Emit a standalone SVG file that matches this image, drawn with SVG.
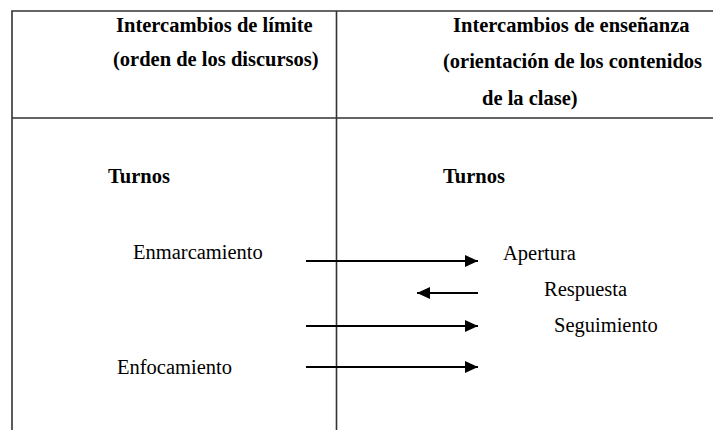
<svg xmlns="http://www.w3.org/2000/svg" width="713" height="430" viewBox="0 0 713 430">
<style>
.t{font-family:"Liberation Serif","Times New Roman",serif;font-size:20.5px;fill:#000}
.b{font-weight:bold}
.grid{stroke:#333;stroke-width:1.6;fill:none}
.arr{stroke:#000;stroke-width:2;fill:none}
</style>
<defs>
<marker id="ah" markerUnits="userSpaceOnUse" markerWidth="14" markerHeight="12" refX="13" refY="6" orient="auto">
<path d="M0,0 L13,6 L0,12 z" fill="#000"/>
</marker>
</defs>
<rect width="713" height="430" fill="#fff"/>
<g id="table">
<path class="grid" d="M12,430 V11 H713 M336.5,11 V430 M12,118 H713"/>
</g>
<g id="header-left">
<text class="t b" x="116" y="32">Intercambios de límite</text>
<text class="t b" x="113" y="66">(orden de los discursos)</text>
</g>
<g id="header-right">
<text class="t b" x="453" y="32">Intercambios de enseñanza</text>
<text class="t b" x="443" y="68">(orientación de los contenidos</text>
<text class="t b" x="482" y="105">de la clase)</text>
</g>
<g id="turnos-left"><text class="t b" x="108" y="183">Turnos</text></g>
<g id="turnos-right"><text class="t b" x="443" y="183">Turnos</text></g>
<g id="enmarcamiento"><text class="t" x="133" y="259">Enmarcamiento</text></g>
<g id="enfocamiento"><text class="t" x="117" y="374">Enfocamiento</text></g>
<g id="apertura"><text class="t" x="503" y="260">Apertura</text></g>
<g id="respuesta"><text class="t" x="544" y="296">Respuesta</text></g>
<g id="seguimiento"><text class="t" x="554" y="332">Seguimiento</text></g>
<g id="connectors">
<line class="arr" x1="306" y1="261" x2="478" y2="261" marker-end="url(#ah)"/>
<line class="arr" x1="478" y1="293" x2="417" y2="293" marker-end="url(#ah)"/>
<line class="arr" x1="306" y1="326" x2="478" y2="326" marker-end="url(#ah)"/>
<line class="arr" x1="306" y1="367" x2="478" y2="367" marker-end="url(#ah)"/>
</g>
</svg>
